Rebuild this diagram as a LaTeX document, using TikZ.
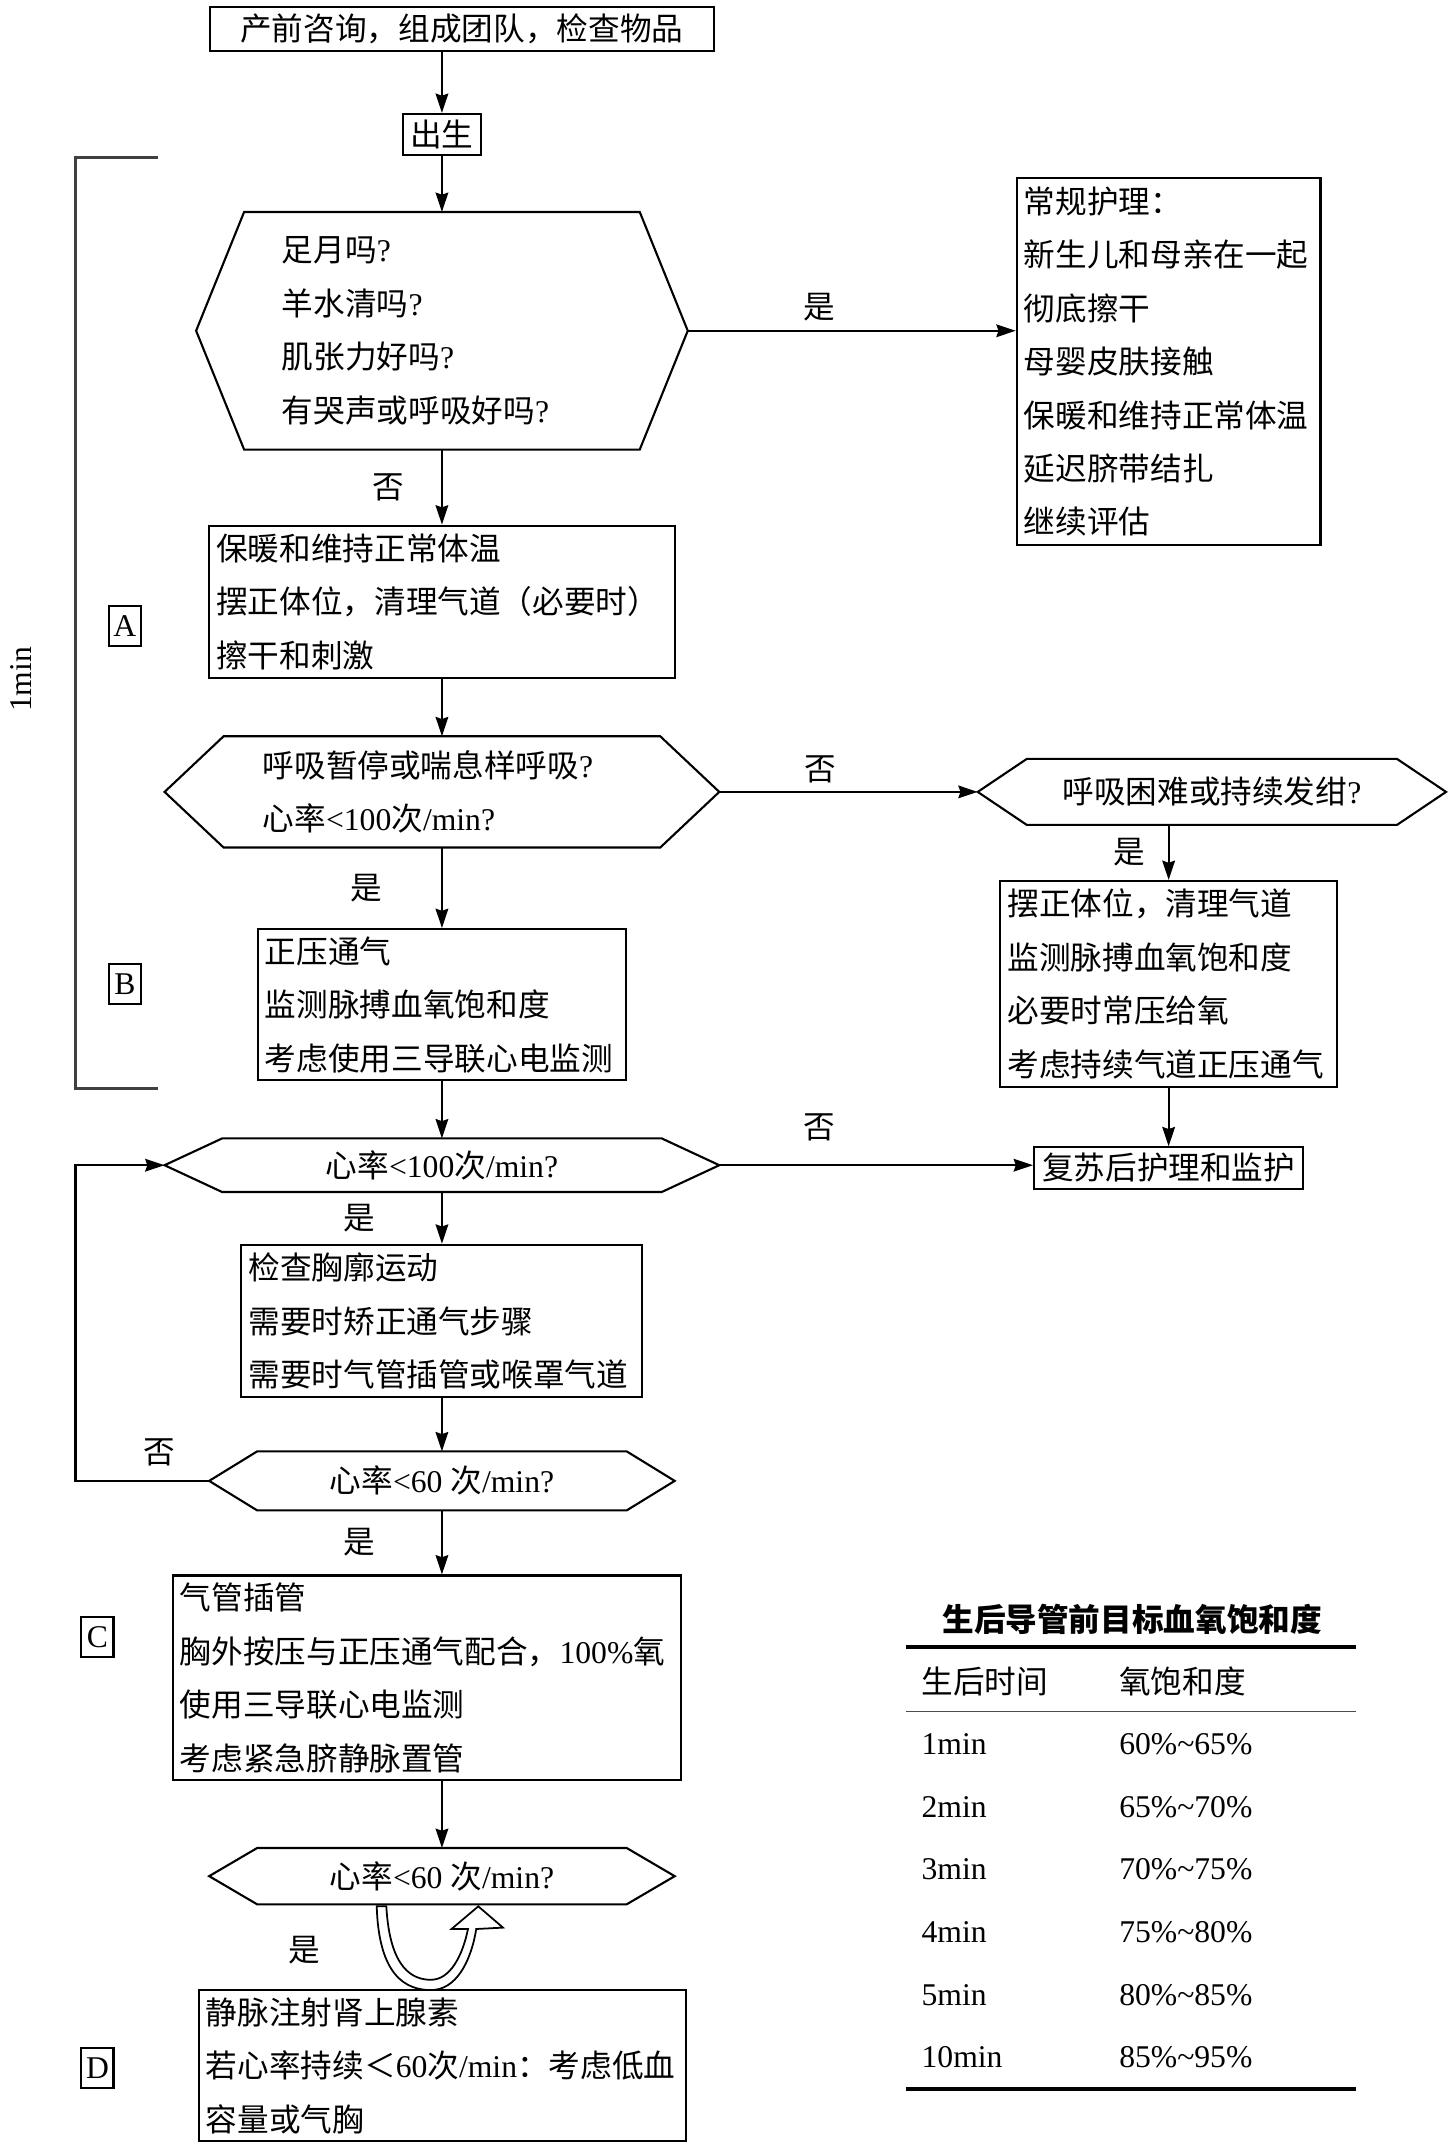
\documentclass[tikz,border=0pt]{standalone}
\usepackage{fontspec}
\setmainfont{Noto Sans CJK SC}
\newfontfamily\latn{Liberation Serif}
\usetikzlibrary{arrows.meta, positioning}
\newcommand{\nm}[1]{{\latn #1}}
\newcommand{\hexframe}[2]{%
  \draw[line width=0.6pt] (#1.west) -- ([xshift=#2]#1.north west) -- ([xshift=-#2]#1.north east)
    -- (#1.east) -- ([xshift=-#2]#1.south east) -- ([xshift=#2]#1.south west) -- cycle;}

\begin{document}
\begin{tikzpicture}[
  x=0.013725cm, y=-0.013725cm,
  every node/.style={font=\fontsize{9pt}{15.2pt}\selectfont, inner sep=0pt},
  box/.style={draw, line width=0.6pt, align=left, inner xsep=0.07cm},
  hexq/.style={align=left},
  tag/.style={draw, line width=0.6pt, minimum width=0.32cm, minimum height=0.40cm,
              font=\fontsize{9pt}{11pt}\selectfont\latn},
  lbl/.style={inner sep=1pt},
  tab/.style={anchor=west, font=\fontsize{9pt}{11pt}\selectfont\latn},
  arrow/.style={-{Stealth[length=5.5pt, width=3.6pt, inset=0.6pt]}, line width=0.6pt},
]
\useasboundingbox (0,0) rectangle (1055,1568);

\node[box, align=center, minimum width=5.037cm, minimum height=0.439cm] (prep) at (336.5,21)
      {产前咨询，组成团队，检查物品};
\node[box, align=center, minimum width=0.755cm, minimum height=0.41cm] (birth) at (322,98) {出生};
\node[hexq, text width=3.198cm, inner xsep=0.851cm, minimum height=2.361cm] (q1) at (322,241)
      {足月吗\nm{?}\\羊水清吗\nm{?}\\肌张力好吗\nm{?}\\有哭声或呼吸好吗\nm{?}};
\node[box, text width=2.896cm, minimum height=3.665cm] (care) at (851.5,263.5)
      {常规护理：\\新生儿和母亲在一起\\彻底擦干\\母婴皮肤接触\\保暖和维持正常体温\\延迟脐带结扎\\继续评估};
\node[box, text width=4.513cm, minimum height=1.523cm] (stepA) at (322,438.5)
      {保暖和维持正常体温\\摆正体位，清理气道（必要时）\\擦干和刺激};
\node[hexq, text width=3.582cm, inner xsep=0.974cm, minimum height=1.098cm] (q2) at (322,577)
      {呼吸暂停或喘息样呼吸\nm{?}\\心率\nm{<100}次\nm{/min?}};
\node[hexq, align=center, minimum width=4.667cm, minimum height=0.645cm] (q3) at (883,577)
      {呼吸困难或持续发绀\nm{?}};
\node[box, text width=3.223cm, minimum height=2.059cm] (stepR) at (851.5,717)
      {摆正体位，清理气道\\监测脉搏血氧饱和度\\必要时常压给氧\\考虑持续气道正压通气};
\node[box, align=center, minimum width=2.690cm, minimum height=0.412cm] (post) at (851.5,851)
      {复苏后护理和监护};
\node[box, text width=3.538cm, minimum height=1.510cm] (stepB) at (322,732)
      {正压通气\\监测脉搏血氧饱和度\\考虑使用三导联心电监测};
\node[hexq, align=center, minimum width=5.531cm, minimum height=0.522cm] (q4) at (322,849)
      {心率\nm{<100}次\nm{/min?}};
\node[box, text width=3.868cm, minimum height=1.523cm] (check) at (322,962.5)
      {检查胸廓运动\\需要时矫正通气步骤\\需要时气管插管或喉罩气道};
\node[hexq, align=center, minimum width=4.639cm, minimum height=0.576cm] (q5) at (322,1079)
      {心率\nm{<60 }次\nm{/min?}};
\node[box, text width=4.938cm, minimum height=2.045cm] (stepC) at (311,1222.5)
      {气管插管\\胸外按压与正压通气配合，\nm{100\%}氧\\使用三导联心电监测\\考虑紧急脐静脉置管};
\node[hexq, align=center, minimum width=4.639cm, minimum height=0.549cm] (q6) at (322,1367)
      {心率\nm{<60 }次\nm{/min?}};
\node[box, text width=4.732cm, minimum height=1.510cm] (stepD) at (322.5,1505)
      {静脉注射肾上腺素\\若心率持续＜\nm{60}次\nm{/min}：考虑低血\\容量或气胸};

\hexframe{q1}{0.48cm}
\hexframe{q2}{0.59cm}
\hexframe{q3}{0.49cm}
\hexframe{q4}{0.576cm}
\hexframe{q5}{0.48cm}
\hexframe{q6}{0.48cm}

\node[tag] (tagA) at (91,456) {A};
\node[tag] (tagB) at (91,717) {B};
\node[tag] (tagC) at (71,1193) {C};
\node[tag] (tagD) at (71,1507) {D};
\node[rotate=90, font=\fontsize{9pt}{11pt}\selectfont\latn] (onemin) at (15,495) {1min};
\draw[line width=0.8pt, black!75] (115,115) -- (55,115) -- (55,793) -- (115,793);
\coordinate (loopx) at (55,1079);

\draw[arrow] (prep.south -| birth.north) -- (birth.north);
\draw[arrow] (birth) -- (q1);
\draw[arrow] (q1.east) -- node[lbl, above=0.05cm, pos=0.4] {是} (q1.east -| care.west);
\draw[arrow] (q1) -- node[lbl, left=0.33cm] {否} (stepA);
\draw[arrow] (stepA) -- (q2);
\draw[arrow] (q2.east) -- node[lbl, above=0.04cm, pos=0.39] {否} (q3.west);
\draw[arrow] (q3.south -| stepR.north) -- node[lbl, left=0.19cm] {是} (stepR.north);
\draw[arrow] (stepR) -- (post);
\draw[arrow] (q2) -- node[lbl, left=0.55cm] {是} (stepB);
\draw[arrow] (stepB) -- (q4);
\draw[arrow] (q4.east) -- node[lbl, above=0.2cm, pos=0.32] {否} (q4.east -| post.west);
\draw[arrow] (q4) -- node[lbl, left=0.62cm] {是} (check);
\draw[arrow] (check) -- (q5);
\draw[arrow] (q5.west) -- node[lbl, above=0.1cm, pos=0.37] {否} (loopx) |- (q4.west);
\draw[arrow] (q5) -- node[lbl, left=0.62cm] {是} (q5.south |- stepC.north);
\draw[arrow] (stepC.south -| q6.north) -- (q6.north);

\node[lbl] (yes6) at (222,1421) {是};
\draw[line width=0.5pt, fill=white] (274.5,1389) .. controls (276,1440) and (296,1450) .. (314,1450)
  .. controls (332,1450) and (343,1430) .. (347,1405.5) -- (366.5,1404.5) -- (348.5,1389)
  -- (329,1405.5) -- (341,1405.5) .. controls (337,1425) and (328,1442.5) .. (314,1442.5)
  .. controls (301,1442.5) and (284,1435) .. (281.5,1389) -- cycle;

\node[font=\fontsize{9pt}{11pt}\selectfont\bfseries] (ttl) at (825,1180) {生后导管前目标血氧饱和度};
\draw[line width=1.1pt] (660,1200) -- (988,1200);
\node[tab, font=\fontsize{9pt}{11pt}\selectfont] (h1) at (671,1225) {生后时间};
\node[tab, font=\fontsize{9pt}{11pt}\selectfont] (h2) at (815,1225) {氧饱和度};
\draw[line width=0.5pt, black!70] (660,1247) -- (988,1247);
\foreach \t/\s [count=\i] in {1min/60\%\textasciitilde65\%, 2min/65\%\textasciitilde70\%,
    3min/70\%\textasciitilde75\%, 4min/75\%\textasciitilde80\%,
    5min/80\%\textasciitilde85\%, 10min/85\%\textasciitilde95\%}{
  \node[tab] (t\i) at (671,1271+45.6*\i-45.6) {\t};
  \node[tab] (s\i) at (815,1271+45.6*\i-45.6) {\s};
}
\draw[line width=1.1pt] (660,1522) -- (988,1522);
\end{tikzpicture}
\end{document}
